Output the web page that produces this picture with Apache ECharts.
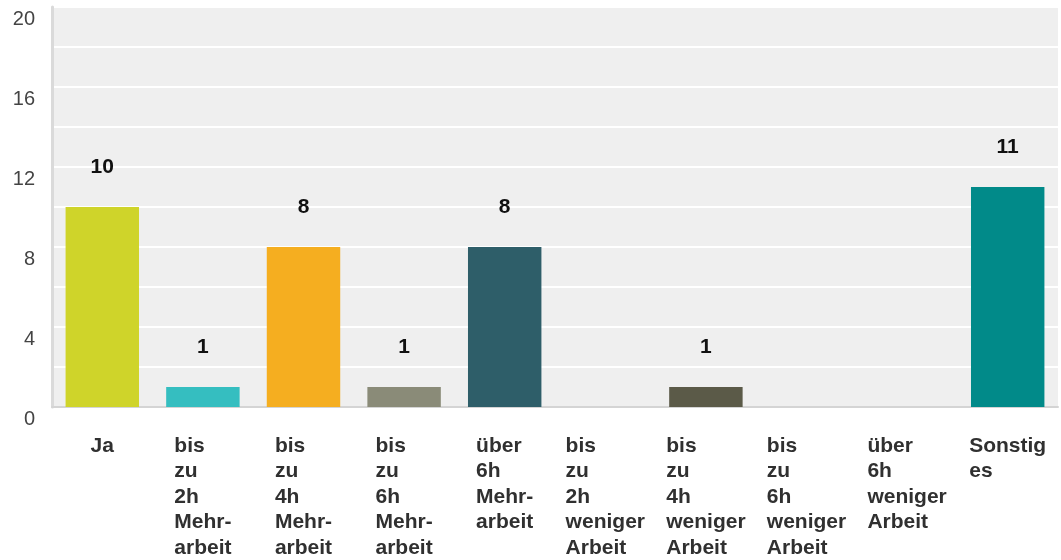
<!DOCTYPE html>
<html>
<head>
<meta charset="utf-8">
<title>Mehrarbeit</title>
<script src="https://cdn.jsdelivr.net/npm/echarts@6/dist/echarts.min.js"></script>
<style>
  html, body { margin: 0; padding: 0; background: #ffffff; }
  #chart { width: 1061px; height: 560px; }
</style>
</head>
<body>
<div id="chart"></div>
<script>
// Category labels, broken into the lines they are printed on
const categories = [
  'Ja',
  'bis\nzu\n2h\nMehr-\narbeit',
  'bis\nzu\n4h\nMehr-\narbeit',
  'bis\nzu\n6h\nMehr-\narbeit',
  'über\n6h\nMehr-\narbeit',
  'bis\nzu\n2h\nweniger\nArbeit',
  'bis\nzu\n4h\nweniger\nArbeit',
  'bis\nzu\n6h\nweniger\nArbeit',
  'über\n6h\nweniger\nArbeit',
  'Sonstig\nes'
];

// Number of answers per category
const counts = [10, 1, 8, 1, 8, 0, 1, 0, 0, 11];

// One colour per bar
const barColors = [
  '#cfd42a', '#35bec0', '#f5ae20', '#8a8b78', '#2e5e69',
  '#8fb0b8', '#5b5a48', '#9a9a9a', '#6f8f8f', '#018a89'
];

// Value axis range and grid step
const yMin = 0;
const yMax = 20;
const yStep = 2;
const yLabelStep = 4;

const FONT = '"Liberation Sans", Arial, Helvetica, sans-serif';

const chart = echarts.init(document.getElementById('chart'), null, { renderer: 'canvas' });

chart.setOption({
  animation: false,
  backgroundColor: '#ffffff',
  textStyle: { fontFamily: FONT },
  grid: {
    left: 52,
    right: 3,
    top: 7,
    bottom: 153,
    show: true,
    backgroundColor: '#efefef',
    borderWidth: 0
  },
  xAxis: {
    type: 'category',
    data: categories,
    axisLine: { show: true, lineStyle: { color: '#d4d4d4', width: 2 } },
    axisTick: { show: false },
    axisLabel: {
      interval: 0,
      margin: 26,
      align: 'center',
      formatter: function (v) {
        return v.split('\n').map(function (s) { return '{l|' + s + '}'; }).join('\n');
      },
      rich: {
        l: {
          align: 'left',
          fontFamily: FONT,
          fontWeight: 'bold',
          fontSize: 21,
          lineHeight: 25.5,
          color: '#303030'
        }
      }
    }
  },
  yAxis: {
    type: 'value',
    min: yMin,
    max: yMax,
    interval: yStep,
    axisLine: { show: true, lineStyle: { color: '#dadada', width: 3 } },
    axisTick: { show: false },
    splitLine: { show: true, lineStyle: { color: '#ffffff', width: 2 } },
    axisLabel: {
      margin: 17,
      verticalAlign: 'top',
      padding: [2, 0, 0, 0],
      fontFamily: FONT,
      fontSize: 20,
      color: '#444444',
      formatter: function (v) { return v % yLabelStep === 0 ? String(v) : ''; }
    }
  },
  series: [{
    type: 'bar',
    barWidth: '73%',
    data: counts.map(function (v, i) {
      return { value: v, itemStyle: { color: barColors[i] } };
    }),
    label: {
      show: true,
      position: 'top',
      distance: 29,
      fontFamily: FONT,
      fontWeight: 'bold',
      fontSize: 21,
      color: '#111111',
      formatter: function (p) { return p.value > 0 ? String(p.value) : ''; }
    }
  }]
});
</script>
</body>
</html>
